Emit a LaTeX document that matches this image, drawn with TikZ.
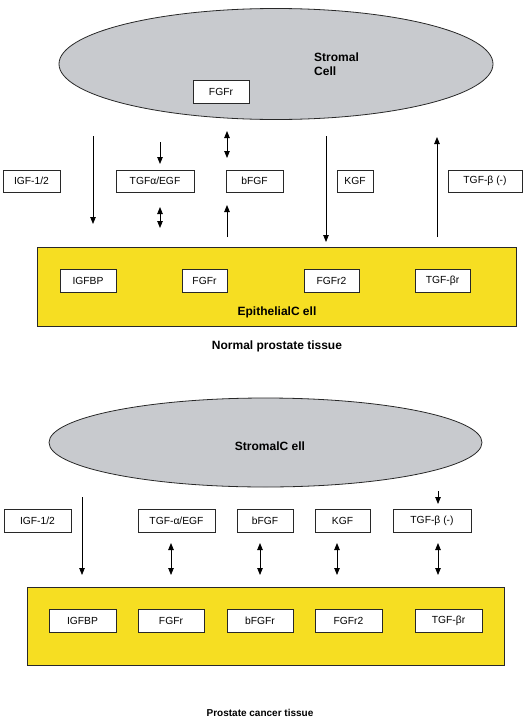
\documentclass[tikz,border=0pt]{standalone}
\usepackage{fontspec}
\setmainfont{Liberation Sans}
\usetikzlibrary{shapes.geometric,arrows.meta}
\definecolor{cellgray}{RGB}{200,202,206}
\definecolor{epiyellow}{RGB}{246,222,34}
\definecolor{inkgray}{RGB}{40,40,40}
\tikzset{
  lbl/.style={draw=inkgray, fill=white, line width=0.8pt, inner sep=0pt, minimum height=23pt, text=black, font=\fontsize{10.3}{12}\selectfont},
  cellell/.style={ellipse, draw=inkgray, fill=cellgray, line width=0.8pt, inner sep=0pt},
  epirect/.style={draw=inkgray, fill=epiyellow, line width=0.9pt},
  boldtxt/.style={inner sep=0pt, font=\fontsize{12}{14}\selectfont\bfseries, text=black},
  sig/.style={line width=0.8pt, draw=black, -{Triangle[length=7pt,width=5.5pt]}},
  sigboth/.style={line width=0.8pt, draw=black, {Triangle[length=7pt,width=5.5pt]}-{Triangle[length=7pt,width=5.5pt]}}
}
\begin{document}
\begin{tikzpicture}[x=1pt,y=-1pt]
\useasboundingbox (0,0) rectangle (524,718);
% ---------- Normal prostate tissue ----------
\node[cellell, minimum width=434pt, minimum height=111pt] (ellA) at (276,64) {};
\node[lbl, minimum width=56pt] (fgfrS) at (221,91.5) {FGFr};
\node[boldtxt, anchor=base west] (stromA) at (314,61) {Stromal};
\node[boldtxt, anchor=base west] (stromB) at (314,75) {Cell};

\node[lbl, minimum width=57pt, minimum height=22pt] (igfA) at (31.5,181) {IGF-1/2};
\node[lbl, minimum width=78pt, minimum height=22pt] (tgfaA) at (155,181) {TGFα/EGF};
\node[lbl, minimum width=57pt, minimum height=22pt] (bfgfA) at (254.5,181) {bFGF};
\node[lbl, minimum width=36pt, minimum height=22pt] (kgfA) at (355,181) {KGF};
\node[lbl, minimum width=74pt, minimum height=22pt] (tgfbA) at (485,181) {TGF-β (-)};

\coordinate (a1s) at (93,136);   \coordinate (a1e) at (93,224);
\coordinate (a2s) at (160,142);  \coordinate (a2e) at (160,164);
\coordinate (a3s) at (160,207);  \coordinate (a3e) at (160,228);
\coordinate (a4s) at (227,131);  \coordinate (a4e) at (227,158);
\coordinate (a5s) at (227,237);  \coordinate (a5e) at (227,205);
\coordinate (a6s) at (326,136);  \coordinate (a6e) at (326,242);
\coordinate (a7s) at (437,237);  \coordinate (a7e) at (437,137);
\draw[sig] (a1s) -- (a1e);
\draw[sig] (a2s) -- (a2e);
\draw[sigboth] (a3s) -- (a3e);
\draw[sigboth] (a4s) -- (a4e);
\draw[sig] (a5s) -- (a5e);
\draw[sig] (a6s) -- (a6e);
\draw[sig] (a7s) -- (a7e);

\draw[epirect] (37,247) rectangle (516,326);
\node[lbl, minimum width=56pt] (igfbpA) at (88,280.5) {IGFBP};
\node[lbl, minimum width=45pt] (fgfrA) at (204.5,280.5) {FGFr};
\node[lbl, minimum width=55pt] (fgfr2A) at (331.5,280.5) {FGFr2};
\node[lbl, minimum width=55pt] (tgfbrA) at (442.5,280.5) {TGF-βr};
\node[boldtxt] (epiA) at (277,312) {EpithelialC ell};
\node[boldtxt] (titleA) at (277,346) {Normal prostate tissue};

% ---------- Prostate cancer tissue ----------
\node[cellell, minimum width=433pt, minimum height=89pt] (ellB) at (265.5,442.5) {};
\node[boldtxt] (stromC) at (270,446) {StromalC ell};

\node[lbl, minimum width=67pt] (igfB) at (37.5,520.5) {IGF-1/2};
\node[lbl, minimum width=77pt] (tgfaB) at (176.5,520.5) {TGF-α/EGF};
\node[lbl, minimum width=56pt] (bfgfB) at (265,520.5) {bFGF};
\node[lbl, minimum width=55pt] (kgfB) at (342.5,520.5) {KGF};
\node[lbl, minimum width=78pt] (tgfbB) at (432,520.5) {TGF-β (-)};

\coordinate (b0s) at (438,491);  \coordinate (b0e) at (438,504);
\coordinate (b1s) at (82,497);   \coordinate (b1e) at (82,575);
\coordinate (b2s) at (171,543);  \coordinate (b2e) at (171,575);
\coordinate (b3s) at (260,543);  \coordinate (b3e) at (260,575);
\coordinate (b4s) at (337,543);  \coordinate (b4e) at (337,575);
\coordinate (b5s) at (438,543);  \coordinate (b5e) at (438,575);
\draw[sig] (b0s) -- (b0e);
\draw[sig] (b1s) -- (b1e);
\draw[sigboth] (b2s) -- (b2e);
\draw[sigboth] (b3s) -- (b3e);
\draw[sigboth] (b4s) -- (b4e);
\draw[sigboth] (b5s) -- (b5e);

\draw[epirect] (27,587) rectangle (504,665);
\node[lbl, minimum width=67pt] (igfbpB) at (82.5,620.5) {IGFBP};
\node[lbl, minimum width=66pt] (fgfrB) at (171,620.5) {FGFr};
\node[lbl, minimum width=66pt] (bfgfrB) at (260,620.5) {bFGFr};
\node[lbl, minimum width=67pt] (fgfr2B) at (348.5,620.5) {FGFr2};
\node[lbl, minimum width=67pt] (tgfbrB) at (448.5,620.5) {TGF-βr};
\node[boldtxt, font=\fontsize{10}{12}\selectfont\bfseries] (titleB) at (260,713) {Prostate cancer tissue};
\end{tikzpicture}
\end{document}
